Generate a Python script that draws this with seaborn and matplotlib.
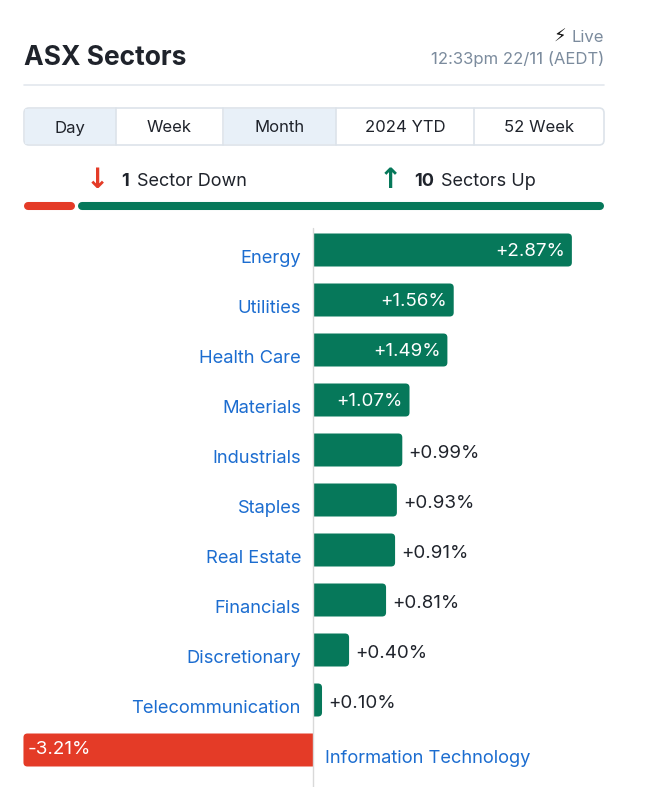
import numpy as np
import pandas as pd
import matplotlib
matplotlib.use("Agg")
import matplotlib.pyplot as plt
from matplotlib.patches import FancyBboxPatch, Rectangle
import seaborn as sns

sectors = ["Energy", "Utilities", "Health Care", "Materials", "Industrials", "Staples",
           "Real Estate", "Financials", "Discretionary", "Telecommunication",
           "Information Technology"]
changes = [2.87, 1.56, 1.49, 1.07, 0.99, 0.93, 0.91, 0.81, 0.40, 0.10, -3.21]
tabs = ["Day", "Week", "Month", "2024 YTD", "52 Week"]
active_tabs = ["Day", "Month"]
title = "ASX Sectors"
live_text = "Live"
time_text = "12:33pm 22/11 (AEDT)"

GREEN = "#06785a"
RED = "#e43b27"
BLUE = "#1c6dd0"
DARK = "#1f232b"
GREY = "#7b8b9d"

df = pd.DataFrame({"sector": sectors, "change": changes})
df["dir"] = np.where(df["change"] >= 0, "up", "down")
n_down = int((df["change"] < 0).sum())
n_up = int((df["change"] >= 0).sum())

sns.set_theme(style="white")
plt.rcParams["font.family"] = ["Inter", "DejaVu Sans"]

W, H = 650, 787
fig = plt.figure(figsize=(6.5, 7.87), dpi=100)

# header overlay in pixel coordinates
hd = fig.add_axes([0, 0, 1, 1])
hd.set_xlim(0, W)
hd.set_ylim(H, 0)
hd.axis("off")
hd.patch.set_alpha(0)

hd.text(24, 58, title, fontsize=19, fontweight="bold", color=DARK, va="center", ha="left")
hd.text(604, 38, live_text, fontsize=12, color=GREY, va="center", ha="right")
hd.text(566, 37, "\u26a1", fontsize=13, color="#111111", va="center", ha="right",
        family=["DejaVu Sans"])
hd.text(604, 59, time_text, fontsize=12, color=GREY, va="center", ha="right")
hd.plot([24, 604], [85, 85], color="#e3e8ee", lw=1.2)

# tab selector
edges = [24, 116, 223, 336, 474, 604]
hd.add_patch(FancyBboxPatch((24, 108), 580, 37, boxstyle="round,pad=0,rounding_size=5",
                            facecolor="white", edgecolor="#dde3ea", lw=1.2, zorder=1))
for i, lab in enumerate(tabs):
    x0, x1 = edges[i], edges[i + 1]
    if lab in active_tabs:
        hd.add_patch(Rectangle((x0 + 1, 109), x1 - x0 - 1, 35, facecolor="#e8f0f8",
                               edgecolor="none", zorder=1.5))
    if i > 0:
        hd.plot([x0, x0], [108, 145], color="#dde3ea", lw=1.2, zorder=2)
    hd.text((x0 + x1) / 2, 128, lab, fontsize=12, color=DARK, ha="center", va="center", zorder=3)

# up / down summary
hd.text(97, 180, "\u2193", fontsize=20, fontweight="bold", color=RED, ha="center", va="center",
        family=["DejaVu Sans"])
hd.text(121, 181, str(n_down), fontsize=13, fontweight="bold", color=DARK, ha="left", va="center")
hd.text(137, 181, "Sector Down", fontsize=13, color=DARK, ha="left", va="center")
hd.text(390, 180, "\u2191", fontsize=20, fontweight="bold", color=GREEN, ha="center", va="center",
        family=["DejaVu Sans"])
hd.text(414, 181, str(n_up), fontsize=13, fontweight="bold", color=DARK, ha="left", va="center")
hd.text(441, 181, "Sectors Up", fontsize=13, color=DARK, ha="left", va="center")

split = 24 + 580 * n_down / (n_down + n_up)
hd.plot([28, split - 5.5], [206, 206], color=RED, lw=5.8, solid_capstyle="round")
hd.plot([split + 5.5, 600], [206, 206], color=GREEN, lw=5.8, solid_capstyle="round")

# bar chart
px_per_unit = 90.2
zero_px = 313
top_px = 225
row_px = 50
ax = fig.add_axes([0, 0, 1, (H - top_px) / H])
sns.barplot(data=df, x="change", y="sector", hue="dir", palette={"up": GREEN, "down": RED},
            dodge=False, legend=False, width=0.66, orient="h", ax=ax, saturation=1)
ax.set_xlim(-zero_px / px_per_unit, (W - zero_px) / px_per_unit)
ax.set_ylim((H - 250) / row_px, -0.5)
ax.axis("off")

# rounded ends on the far side only: extend the box behind zero, then mask it
r = 4 / px_per_unit
asp = px_per_unit / row_px
for p in list(ax.patches):
    x0, w, y0, h = p.get_x(), p.get_width(), p.get_y(), p.get_height()
    fc = p.get_facecolor()
    p.remove()
    if abs(w) < 1e-9:
        continue
    if w > 0:
        left, width, mask_x = -2 * r, w + 2 * r, -2.5 * r
    else:
        left, width, mask_x = x0 + w, -w + 2 * r, 0
    ax.add_patch(FancyBboxPatch((left, y0), width, h,
                                boxstyle=f"round,pad=0,rounding_size={r}",
                                mutation_aspect=asp, facecolor=fc, edgecolor="none", zorder=2))
    ax.add_patch(Rectangle((mask_x, y0 - 0.02), 2.5 * r, h + 0.04, facecolor="white",
                           edgecolor="none", zorder=2.5))

ax.axvline(0, ymin=0, ymax=(H - 228) / (H - top_px), color="#d9d9d9", lw=1, zorder=3)

off = 12 / px_per_unit
fs = 13.5
fs_cat = 13.2
for i, (s, v) in enumerate(zip(sectors, changes)):
    lab = f"{v:+.2f}%"
    if v >= 0:
        ax.text(-off, i + 0.17, s, fontsize=fs_cat, color=BLUE, ha="right", va="center")
        if v >= 1.0:
            ax.text(v - 7 / px_per_unit, i + 0.04, lab, fontsize=fs, color="white", ha="right",
                    va="center", zorder=4)
        else:
            ax.text(v + 6 / px_per_unit, i + 0.06, lab, fontsize=fs, color=DARK, ha="left",
                    va="center", zorder=4)
    else:
        ax.text(off, i + 0.17, s, fontsize=fs_cat, color=BLUE, ha="left", va="center")
        ax.text(v + 4 / px_per_unit, i + 0.0, lab, fontsize=fs, color="white", ha="left",
                va="center", zorder=4)

fig.savefig("out.png", dpi=100)
